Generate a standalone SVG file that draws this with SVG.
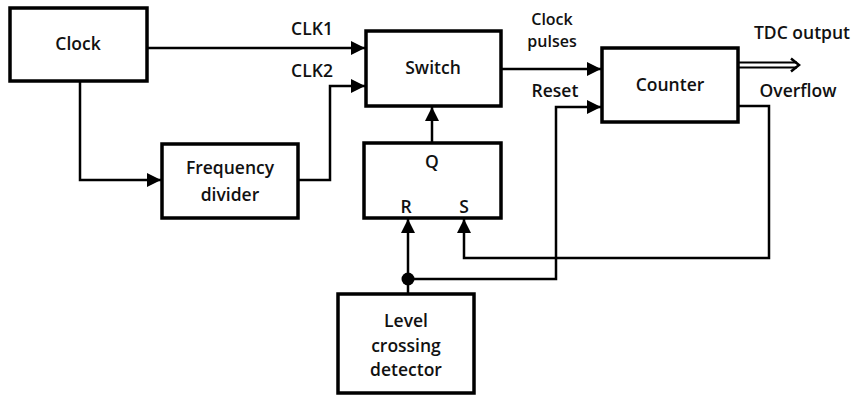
<svg xmlns="http://www.w3.org/2000/svg" width="853" height="396" viewBox="0 0 853 396">
<defs>
<style>
.box{fill:#fff;stroke:#000;stroke-width:3.5}
.ln{fill:none;stroke:#000;stroke-width:2.5}
text{font-family:"Open Sans","Noto Sans",sans-serif;font-weight:600;font-size:17.5px;fill:#111;text-anchor:middle}
.sm{font-size:16px}
</style>
<marker id="ah" markerUnits="userSpaceOnUse" markerWidth="16" markerHeight="16" viewBox="0 0 16 16" refX="15" refY="8" orient="auto">
<path d="M1,1 L15,8 L1,15 Z" fill="#000"/>
</marker>
</defs>
<rect width="853" height="396" fill="#fff"/>
<g id="connectors">
<path class="ln" d="M147,48 H365" marker-end="url(#ah)"/>
<path class="ln" d="M80,81 V180 H161" marker-end="url(#ah)"/>
<path class="ln" d="M298,180 H330 V86 H365" marker-end="url(#ah)"/>
<path class="ln" d="M501,69 H601" marker-end="url(#ah)"/>
<path class="ln" d="M432,143 V107" marker-end="url(#ah)"/>
<path class="ln" d="M408,294 V219" marker-end="url(#ah)"/>
<path class="ln" d="M408,279 H556 V107 H601" marker-end="url(#ah)"/>
<path class="ln" d="M738,106 H769 V258 H464 V219" marker-end="url(#ah)"/>
<circle cx="408" cy="279" r="6.5" fill="#000"/>
<path d="M738,62.5 H797 M738,67.5 H797" fill="none" stroke="#000" stroke-width="2"/>
<path d="M791,58.5 L799,65 L791,71.5" fill="none" stroke="#000" stroke-width="2.5"/>
</g>
<g id="clock"><rect class="box" x="10" y="8" width="137" height="73"/><text x="78" y="50">Clock</text></g>
<g id="divider"><rect class="box" x="162" y="144" width="136" height="74"/><text x="230" y="174">Frequency</text><text x="230" y="201">divider</text></g>
<g id="switch"><rect class="box" x="366" y="31" width="135" height="75"/><text x="433" y="74">Switch</text></g>
<g id="flipflop"><rect class="box" x="364" y="143" width="137" height="75"/><text x="432" y="168">Q</text><text x="406" y="213">R</text><text x="464" y="213">S</text></g>
<g id="detector"><rect class="box" x="338" y="294" width="136" height="99"/><text x="406" y="327">Level</text><text x="406" y="352">crossing</text><text x="406" y="376">detector</text></g>
<g id="counter"><rect class="box" x="602" y="48" width="136" height="74"/><text x="670" y="91">Counter</text></g>
<g id="labels">
<text x="312" y="35">CLK1</text>
<text x="312" y="77">CLK2</text>
<text class="sm" x="552" y="25">Clock</text>
<text class="sm" x="552" y="47">pulses</text>
<text x="555" y="97">Reset</text>
<text x="802" y="39">TDC output</text>
<text x="798" y="97">Overflow</text>
</g>
</svg>
